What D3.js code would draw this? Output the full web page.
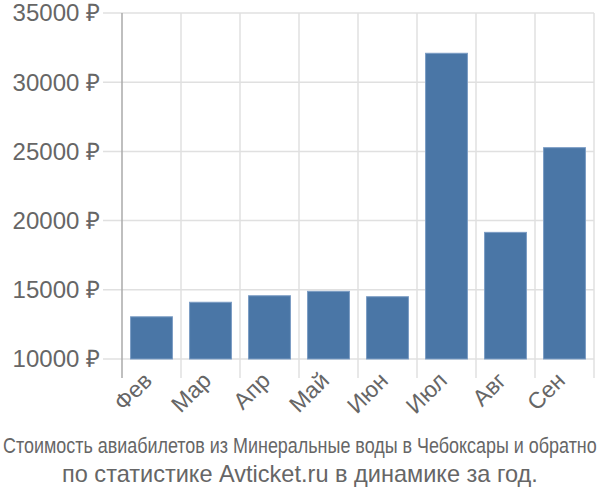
<!DOCTYPE html>
<html><head><meta charset="utf-8">
<script src="https://cdn.jsdelivr.net/npm/d3@7"></script>
<style>body{margin:0;background:#fff}svg{display:block}</style>
</head><body>
<script>
const categories = ["Фев","Мар","Апр","Май","Июн","Июл","Авг","Сен"];
const values = [13050,14100,14570,14890,14500,32090,19150,25270];
const yTicks = [10000,15000,20000,25000,30000,35000];
const titleLines = ["Стоимость авиабилетов из Минеральные воды в Чебоксары и обратно","по статистике Avticket.ru в динамике за год."];

const W=600,H=500;
const svg=d3.select("body").append("svg").attr("width",W).attr("height",H);
const x=d3.scaleBand().domain(categories).range([122,594]).paddingInner(0.29).paddingOuter(0.145);
const xg=d3.scaleBand().domain(categories).range([122,594]);
const y=d3.scaleLinear().domain([10000,35000]).range([359,13]);

// horizontal grid
svg.append("g").selectAll("line").data(yTicks).join("line")
 .attr("x1",103).attr("x2",594).attr("y1",d=>y(d)).attr("y2",d=>y(d))
 .attr("stroke","#e0e0e0").attr("stroke-width",1.5);
// vertical grid at band boundaries
const bounds=categories.map(c=>xg(c)+xg.bandwidth());
svg.append("g").selectAll("line").data(bounds).join("line")
 .attr("x1",d=>d).attr("x2",d=>d).attr("y1",13).attr("y2",378)
 .attr("stroke","#e0e0e0").attr("stroke-width",1.5);
// y axis line
svg.append("line").attr("x1",122).attr("x2",122).attr("y1",13).attr("y2",378)
 .attr("stroke","#aaa").attr("stroke-width",1.5);

// bars
svg.append("g").selectAll("rect").data(values).join("rect")
 .attr("x",(d,i)=>x(categories[i])).attr("width",x.bandwidth())
 .attr("y",d=>y(d)).attr("height",d=>y(10000)-y(d))
 .attr("fill","#4a76a6").attr("stroke","#7b9cc4").attr("stroke-width",1);

// y labels
svg.append("g").selectAll("text").data(yTicks).join("text")
 .attr("x",100).attr("y",d=>y(d)).attr("dy","0.35em").attr("text-anchor","end")
 .attr("font-family","Liberation Sans, Arial, sans-serif").attr("font-size",24).attr("fill","#666")
 .text(d=>d+" ₽");

// x labels
svg.append("g").selectAll("text").data(categories).join("text")
 .attr("transform",d=>`translate(${xg(d)+xg.bandwidth()/2+2},${382}) rotate(-45)`)
 .attr("text-anchor","end")
 .attr("font-family","Liberation Sans, Arial, sans-serif").attr("font-size",23).attr("fill","#666")
 .text(d=>d);

// titles (fit to width by horizontal scaling)
function fitText(str, x0, yb, width, size){
  const t=svg.append("text").attr("x",0).attr("y",0)
   .attr("font-family","Liberation Sans, Arial, sans-serif").attr("font-size",size).attr("fill","#666")
   .text(str);
  const w=t.node().getComputedTextLength();
  t.attr("transform",`translate(${x0},${yb}) scale(${width/w},1)`);
}
fitText(titleLines[0], 3, 453, 594, 22);
fitText(titleLines[1], 62, 482, 476, 23);
</script>
</body></html>
